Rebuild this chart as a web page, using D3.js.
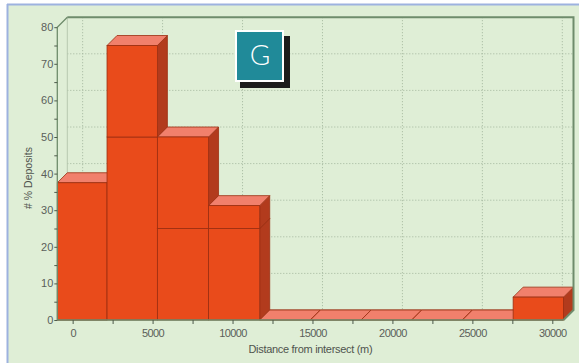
<!DOCTYPE html>
<html>
<head>
<meta charset="utf-8">
<script src="https://cdn.jsdelivr.net/npm/d3@7/dist/d3.min.js"></script>
<style>
  html, body { margin: 0; padding: 0; background: #ffffff; }
  svg { display: block; }
  text { font-family: "Liberation Sans", Arial, sans-serif; }
</style>
</head>
<body>
<svg id="chart" width="579" height="363"></svg>
<script>
// Histogram bins (metres from intersect) and the two stacked series (% of deposits)
const binEdges = [-960, 2150, 5300, 8500, 11700, 14870, 18040, 21210, 24380, 27550, 30700];
const lowerSeries = [0, 50, 25, 25, 0, 0, 0, 0, 0, 0];
const upperSeries = [37.5, 25, 25, 6.25, 0, 0, 0, 0, 0, 6.25];
const yTicks = [0, 5, 10, 15, 20, 25, 30, 35, 40, 45, 50, 55, 60, 65, 70, 75, 80];
const xTicks = [0, 2500, 5000, 7500, 10000, 12500, 15000, 17500, 20000, 22500, 25000, 27500, 30000];
const yLabel = "# % Deposits";
const xLabel = "Distance from intersect (m)";
const badge = "G";

const W = 579, H = 363;
const depth = 10; // 3D offset of the back wall
const svg = d3.select("#chart");

const x = d3.scaleLinear().domain([binEdges[0], binEdges[binEdges.length - 1]]).range([57.3, 563.5]);
const y = d3.scaleLinear().domain([0, 80]).range([320, 27.2]);

// page background and frame
svg.append("rect").attr("width", W).attr("height", H).attr("fill", "#ffffff");
svg.append("rect").attr("x", 7).attr("y", 4).attr("width", W - 7).attr("height", H - 4).attr("fill", "#dfeed6");
svg.append("line").attr("x1", 7).attr("x2", W).attr("y1", 4.5).attr("y2", 4.5).attr("stroke", "#9db2df").attr("stroke-width", 2);
svg.append("line").attr("x1", 7.5).attr("x2", 7.5).attr("y1", 4).attr("y2", H).attr("stroke", "#9db2df").attr("stroke-width", 2);

const x0 = x.range()[0], x1 = x.range()[1];
const yTop = y(80), yBot = y(0);

// back wall grid (dotted)
const grid = svg.append("g").attr("stroke", "#a3b69d").attr("stroke-width", 1).attr("stroke-dasharray", "1,2");
grid.selectAll("line.h").data(yTicks.filter(d => d % 10 === 0 && d > 0 && d < 80)).join("line")
  .attr("x1", x0 + depth).attr("x2", x1 + depth)
  .attr("y1", d => y(d) - depth).attr("y2", d => y(d) - depth);
grid.selectAll("line.v").data(xTicks.filter(d => d % 5000 === 0)).join("line")
  .attr("x1", d => x(d) + depth).attr("x2", d => x(d) + depth)
  .attr("y1", yTop - depth).attr("y2", yBot - depth);
// faint back-left edge
svg.append("line").attr("x1", x0 + depth).attr("x2", x0 + depth).attr("y1", yTop - depth).attr("y2", yBot - depth)
  .attr("stroke", "#b7c8b0").attr("stroke-width", 1);

// 3D stacked bars
const cFront = "#e94b1b", cTop = "#f1806c", cSide = "#b23b1d", cEdge = "#9b2f12";
const bars = svg.append("g");
function box(g, xa, xb, v0, v1) {
  const ya = y(v1), yb = y(v0);
  g.append("path")
    .attr("d", `M${xb},${ya}L${xb + depth},${ya - depth}L${xb + depth},${yb - depth}L${xb},${yb}Z`)
    .attr("fill", cSide).attr("stroke", cEdge).attr("stroke-width", 0.8);
  g.append("path")
    .attr("d", `M${xa},${ya}L${xa + depth},${ya - depth}L${xb + depth},${ya - depth}L${xb},${ya}Z`)
    .attr("fill", cTop).attr("stroke", cEdge).attr("stroke-width", 0.8);
  g.append("rect").attr("x", xa).attr("y", ya).attr("width", xb - xa).attr("height", yb - ya)
    .attr("fill", cFront).attr("stroke", cEdge).attr("stroke-width", 0.8);
}
lowerSeries.forEach((lv, i) => {
  const g = bars.append("g");
  const xa = x(binEdges[i]), xb = x(binEdges[i + 1]);
  box(g, xa, xb, 0, lv);
  if (upperSeries[i] > 0 || lv === 0) box(g, xa, xb, lv, lv + upperSeries[i]);
});

// plot frame
const frame = svg.append("g").attr("stroke", "#6f8c6c").attr("fill", "none");
frame.append("path").attr("d", `M${x0},${yBot}L${x0},${yTop}L${x0 + depth},${yTop - depth}`).attr("stroke-width", 1.3);
frame.append("path").attr("d", `M${x0 + depth},${yTop - depth}L${x1 + depth},${yTop - depth}L${x1 + depth},${yBot - depth}L${x1},${yBot}`).attr("stroke-width", 2);
frame.append("line").attr("x1", x0).attr("x2", x1).attr("y1", yBot).attr("y2", yBot).attr("stroke-width", 1.3);

// axes
const yAxis = svg.append("g").attr("transform", `translate(${x0},0)`)
  .call(d3.axisLeft(y).tickValues(yTicks).tickSize(3).tickPadding(1).tickFormat(d => d % 10 === 0 ? d : ""));
yAxis.select(".domain").remove();
yAxis.selectAll("line").attr("stroke", "#4d5a4b");
yAxis.selectAll("text").attr("fill", "#5b5f5a").style("font-size", "11px");

const xAxis = svg.append("g").attr("transform", `translate(0,${yBot})`)
  .call(d3.axisBottom(x).tickValues(xTicks).tickSize(4).tickPadding(5).tickFormat(d => d % 5000 === 0 ? d : ""));
xAxis.select(".domain").remove();
xAxis.selectAll("line").attr("stroke", "#4d5a4b");
xAxis.selectAll("text").attr("fill", "#5b5f5a").style("font-size", "11px").style("letter-spacing", "-0.6px");

// axis titles
svg.append("text").attr("transform", "translate(32,178) rotate(-90)")
  .attr("text-anchor", "middle").attr("fill", "#4f544e").style("font-size", "10.5px").text(yLabel);
svg.append("text").attr("x", (x0 + x1) / 2).attr("y", 353)
  .attr("text-anchor", "middle").attr("fill", "#4f544e").style("font-size", "11px").style("letter-spacing", "-0.3px").text(xLabel);

// badge
const b = svg.append("g").attr("transform", "translate(235,30)");
b.append("rect").attr("x", 5).attr("y", 6).attr("width", 50).attr("height", 52).attr("fill", "#1c1c1c");
b.append("rect").attr("x", 0).attr("y", 0).attr("width", 49).attr("height", 52).attr("fill", "#ffffff");
b.append("rect").attr("x", 2).attr("y", 2).attr("width", 45).attr("height", 48).attr("fill", "#208a99");
b.append("text").attr("x", 25).attr("y", 35).attr("text-anchor", "middle").attr("fill", "#ffffff")
  .style("font-family", "Lato, 'Open Sans', sans-serif").style("font-weight", "300").style("font-size", "28px").text(badge);
</script>
</body>
</html>
